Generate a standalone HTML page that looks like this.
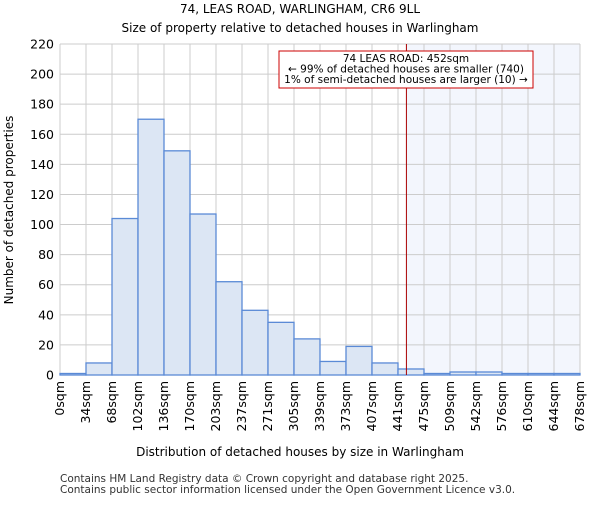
<!DOCTYPE html>
<html><head><meta charset="utf-8"><style>
body{margin:0;background:#fff;font-family:"Liberation Sans","DejaVu Sans",sans-serif}
svg text{font-family:"DejaVu Sans","Liberation Sans",sans-serif}
</style></head><body>
<svg id="c" width="600" height="500" xmlns="http://www.w3.org/2000/svg">
<text x="300" y="13" text-anchor="middle" font-size="12">74, LEAS ROAD, WARLINGHAM, CR6 9LL</text>
<text x="300" y="32" text-anchor="middle" font-size="12">Size of property relative to detached houses in Warlingham</text>
<text x="300" y="456" text-anchor="middle" font-size="12">Distribution of detached houses by size in Warlingham</text>
<text transform="translate(13,210) rotate(-90)" text-anchor="middle" font-size="12">Number of detached properties</text>
<text x="60" y="482" font-size="10.5" fill="#333">Contains HM Land Registry data © Crown copyright and database right 2025.</text>
<text x="60" y="493" font-size="10.5" fill="#333">Contains public sector information licensed under the Open Government Licence v3.0.</text>
<g id="g"></g>
</svg>
<script>
const categories=["0sqm","34sqm","68sqm","102sqm","136sqm","170sqm","203sqm","237sqm","271sqm","305sqm","339sqm","373sqm","407sqm","441sqm","475sqm","509sqm","542sqm","576sqm","610sqm","644sqm","678sqm"];
const counts=[1,8,104,170,149,107,62,43,35,24,9,19,8,4,1,2,2,1,1,1];
const yTicks=[0,20,40,60,80,100,120,140,160,180,200,220];
const binEdges=[0,34,68,102,136,170,203,237,271,305,339,373,407,441,475,509,542,576,610,644,678];
const propertySize=452;
const X0=60,X1=580,Y0=375,Y1=44,YMAX=220;
const NS="http://www.w3.org/2000/svg";
const g=document.getElementById('g');
const bw=(X1-X0)/counts.length;
function y(v){return Y0-(v/YMAX)*(Y0-Y1);}
function xi(i){return X0+i*bw;}
function xv(v){for(let i=0;i<binEdges.length-1;i++){if(v>=binEdges[i]&&v<=binEdges[i+1])return xi(i)+(v-binEdges[i])/(binEdges[i+1]-binEdges[i])*bw;}return X1;}
function mk(t,a){const e=document.createElementNS(NS,t);for(const k in a)e.setAttribute(k,a[k]);g.appendChild(e);return e;}
const px=xv(propertySize);
let e=mk('rect',{x:px,y:Y1,width:X1-px,height:Y0-Y1,fill:'#f3f6fd'});


yTicks.forEach(t=>{
 let l=mk('line',{x1:X0,x2:X1,y1:y(t),y2:y(t),stroke:'#ccc','stroke-width':1});
 
 
 let tx=mk('text',{x:X0-6,y:y(t)+4.5,'text-anchor':'end','font-size':'12.5'});
 tx.textContent=t;
 
 
});
categories.forEach((c,i)=>{
 let l=mk('line',{x1:xi(i),x2:xi(i),y1:Y1,y2:Y0,stroke:'#ccc','stroke-width':1});
 
 
 let tx=mk('text',{transform:`translate(${xi(i)+4},${Y0+6}) rotate(-90)`,'text-anchor':'end','font-size':'12.5'});
 tx.textContent=c;
 
 
});
counts.forEach((v,i)=>{
 let r=mk('rect',{x:xi(i),y:y(v),width:bw,height:Y0-y(v),fill:'#dce6f4',stroke:'#5a8ad6','stroke-width':1.3});
 
 
});
e=mk('line',{x1:px,x2:px,y1:Y1,y2:Y0,stroke:'#a00','stroke-width':1});


e=mk('rect',{x:279,y:51,width:254,height:37,fill:'#fff',stroke:'#c00','stroke-width':1});


[["74 LEAS ROAD: 452sqm",62],["← 99% of detached houses are smaller (740)",72.5],["1% of semi-detached houses are larger (10) →",83]].forEach(([s,yy])=>{
 let t=mk('text',{x:406,y:yy,'text-anchor':'middle','font-size':'10.5'});
 t.textContent=s;
 
 
});
</script>
</body></html>
